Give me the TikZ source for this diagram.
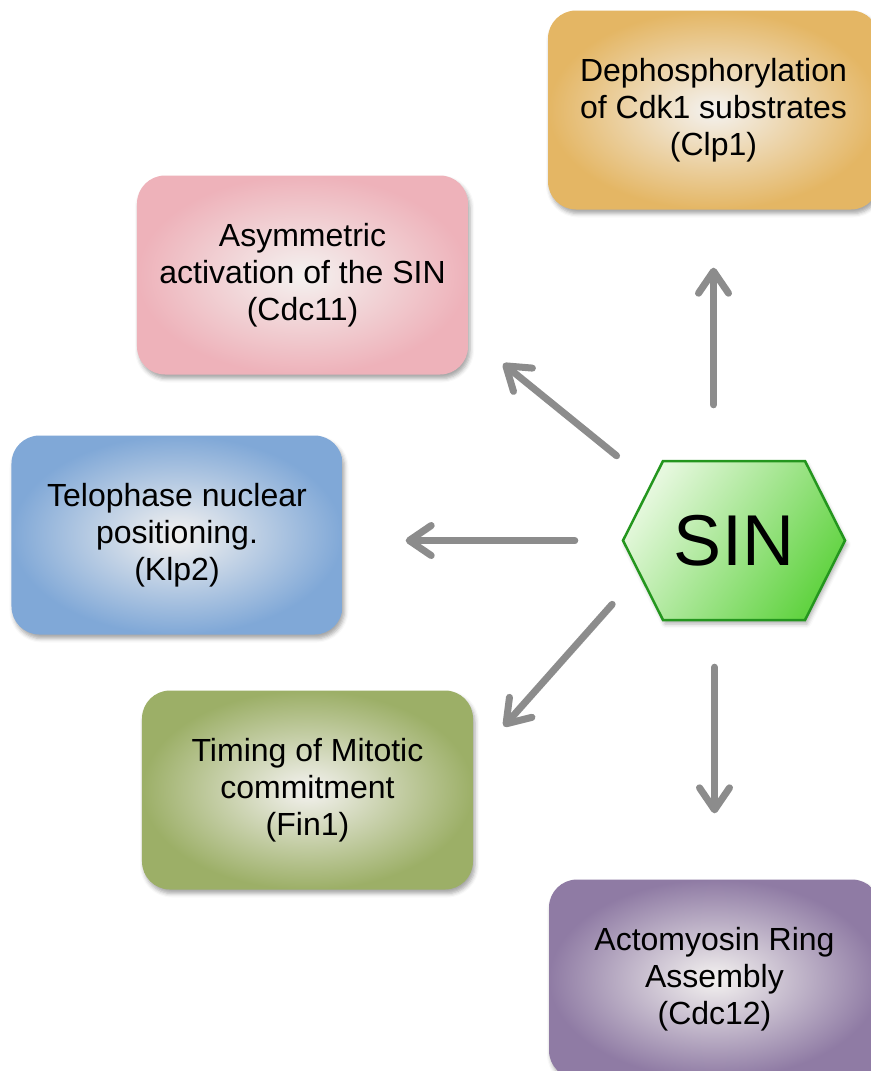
\documentclass[tikz,border=0pt]{standalone}
\usepackage{fontspec}
\setmainfont{Liberation Sans}
\usetikzlibrary{arrows.meta}
\usetikzlibrary{shadows.blur}
\definecolor{centrecol}{RGB}{244,242,240}
\definecolor{dephoscol}{RGB}{228,182,100}
\definecolor{asymcol}{RGB}{238,178,186}
\definecolor{telocol}{RGB}{128,168,215}
\definecolor{timingcol}{RGB}{156,175,103}
\definecolor{actocol}{RGB}{143,123,164}
\definecolor{sinlight}{RGB}{230,248,222}
\definecolor{sinmid}{RGB}{118,217,90}
\definecolor{sindark}{RGB}{98,211,66}
\definecolor{sinedge}{RGB}{36,150,30}
\definecolor{arrowgray}{RGB}{140,140,140}

\begin{document}
\begin{tikzpicture}[x=1bp,y=-1bp,
  box/.style={rounded corners=28bp, minimum width=331bp, minimum height=199bp,
    inner color=centrecol, align=center, font=\fontsize{32bp}{37bp}\selectfont,
    blur shadow={shadow xshift=2bp, shadow yshift=-4bp, shadow blur radius=4bp, shadow opacity=35}},
  arr/.style={draw=arrowgray, line width=7bp, line cap=round,
    -{Straight Barb[length=22bp,width=30bp,round]},
    preaction={draw=black, opacity=0.12, transform canvas={xshift=2bp,yshift=-3bp}}}]
						\useasboundingbox (0,0) rectangle (871,1071);
						\node[box, outer color=dephoscol] (dephos) at (713.5,110) {Dephosphorylation\\of Cdk1 substrates\\(Clp1)};
						\node[box, outer color=asymcol] (asym) at (302.5,275) {Asymmetric\\activation of the SIN\\(Cdc11)};
						\node[box, outer color=telocol] (telo) at (177,535) {Telophase nuclear\\positioning.\\(Klp2)};
						\node[box, outer color=timingcol] (timing) at (307.5,790) {Timing of Mitotic\\commitment\\(Fin1)};
						\node[box, outer color=actocol] (acto) at (714.5,979) {Actomyosin Ring\\Assembly\\(Cdc12)};
						\shade[left color=sinlight, middle color=sinmid, right color=sindark, shading angle=55, draw=sinedge, line width=2.5bp,
						  blur shadow={shadow xshift=2bp, shadow yshift=-4bp, shadow blur radius=4bp, shadow opacity=30}]
						  (623,540.5)--(663,461)--(805,461)--(845,540.5)--(805,620)--(663,620)--cycle;
						\node[minimum width=222bp, minimum height=159bp, font=\fontsize{72bp}{80bp}\selectfont] (sin) at (734,540.5) {SIN};
						\draw[arr, shorten <=56bp, shorten >=58bp] (sin.north -| dephos.south)--(dephos.south);
						\draw[arr, shorten <=8bp, shorten >=45bp] (sin.north west)--(asym.-20.5);
						\draw[arr, shorten <=48bp, shorten >=63bp] (sin.west)--(sin.west -| telo.east);
						\draw[arr, shorten <=16bp, shorten >=46bp] (sin.205.2)--(timing.10);
						\draw[arr, shorten <=47bp, shorten >=66bp] (sin.south -| acto.north)--(acto.north);
					\end{tikzpicture}
\end{document}
